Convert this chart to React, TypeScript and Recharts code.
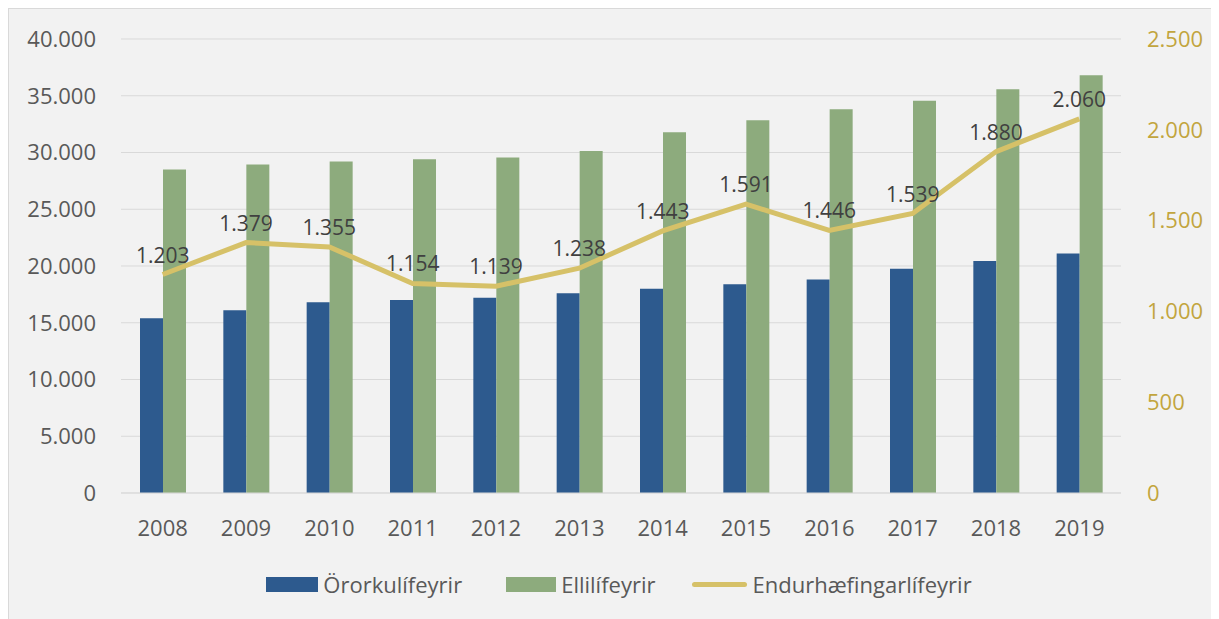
import {
  ComposedChart,
  Bar,
  Line,
  XAxis,
  YAxis,
  CartesianGrid,
  Legend,
  LabelList,
} from 'recharts';

const years = ['2008', '2009', '2010', '2011', '2012', '2013', '2014', '2015', '2016', '2017', '2018', '2019'];
const ororku = [15400, 16100, 16800, 17000, 17200, 17600, 18000, 18400, 18800, 19750, 20450, 21100];
const elli = [28500, 28950, 29200, 29400, 29550, 30130, 31780, 32850, 33800, 34550, 35570, 36800];
const endurhaefing = [1203, 1379, 1355, 1154, 1139, 1238, 1443, 1591, 1446, 1539, 1880, 2060];

const leftTicks = [0, 5000, 10000, 15000, 20000, 25000, 30000, 35000, 40000];
const rightTicks = [0, 500, 1000, 1500, 2000, 2500];

const data = years.map((year, i) => ({
  year,
  ororku: ororku[i],
  elli: elli[i],
  endurhaefing: endurhaefing[i],
}));

const FONT = '"Open Sans", "Noto Sans", sans-serif';
const BLUE = '#2d5a8e';
const GREEN = '#8dab7d';
const GOLD = '#d6c168';
const GRID = '#d9d9d9';
const TEXT = '#595959';

const fmt = (v: number) => String(v).replace(/\B(?=(\d{3})+(?!\d))/g, '.');

function ChartLegend() {
  const item = { display: 'flex', alignItems: 'center' };
  const label = { marginLeft: 5, color: TEXT, fontSize: 22, fontFamily: FONT };
  return (
    <div
      style={{
        height: 48,
        display: 'flex',
        alignItems: 'center',
        justifyContent: 'center',
        paddingLeft: 10,
      }}
    >
      <div style={item}>
        <div style={{ width: 52, height: 15, background: BLUE }} />
        <span style={label}>Örorkulífeyrir</span>
      </div>
      <div style={{ ...item, marginLeft: 44 }}>
        <div style={{ width: 50, height: 15, background: GREEN }} />
        <span style={label}>Ellilífeyrir</span>
      </div>
      <div style={{ ...item, marginLeft: 37 }}>
        <div style={{ width: 55, height: 5, borderRadius: 3, background: GOLD }} />
        <span style={label}>Endurhæfingarlífeyrir</span>
      </div>
    </div>
  );
}

export default function App() {
  return (
    <div
      style={{
        width: 1210,
        height: 610,
        border: `1px solid ${GRID}`,
        background: '#f2f2f2',
      }}
    >
      <style>{'html,body{overflow:hidden}'}</style>
      <ComposedChart
        width={1210}
        height={610}
        data={data}
        margin={{ top: 30, right: 0, bottom: 11, left: 0 }}
        barGap={0}
        barSize={23}
      >
        <CartesianGrid yAxisId="left" vertical={false} stroke={GRID} strokeWidth={1} />
        <XAxis
          dataKey="year"
          height={67}
          tickSize={0}
          tickMargin={27}
          axisLine={{ stroke: GRID }}
          tick={{ fill: TEXT, fontSize: 22, fontFamily: FONT }}
        />
        <YAxis
          yAxisId="left"
          width={112}
          domain={[0, 40000]}
          ticks={leftTicks}
          tickFormatter={fmt}
          axisLine={false}
          tickLine={false}
          tickSize={0}
          tickMargin={25}
          tick={{ fill: TEXT, fontSize: 22, fontFamily: FONT }}
        />
        <YAxis
          yAxisId="right"
          orientation="right"
          width={98}
          domain={[0, 2500]}
          ticks={rightTicks}
          tickFormatter={fmt}
          axisLine={false}
          tickLine={false}
          tickSize={0}
          tickMargin={26}
          tick={{ fill: '#c2a53e', fontSize: 22, fontFamily: FONT, textAnchor: 'start' }}
        />
        <Legend verticalAlign="bottom" content={() => <ChartLegend />} />
        <Bar yAxisId="left" dataKey="ororku" name="Örorkulífeyrir" fill={BLUE} isAnimationActive={false} />
        <Bar yAxisId="left" dataKey="elli" name="Ellilífeyrir" fill={GREEN} isAnimationActive={false} />
        <Line
          yAxisId="right"
          dataKey="endurhaefing"
          name="Endurhæfingarlífeyrir"
          stroke={GOLD}
          strokeWidth={5}
          dot={false}
          activeDot={false}
          isAnimationActive={false}
        >
          <LabelList
            dataKey="endurhaefing"
            position="top"
            offset={12}
            formatter={(v: number) => fmt(v)}
            fill="#404040"
            fontSize={21}
            fontFamily={FONT}
          />
        </Line>
      </ComposedChart>
    </div>
  );
}
